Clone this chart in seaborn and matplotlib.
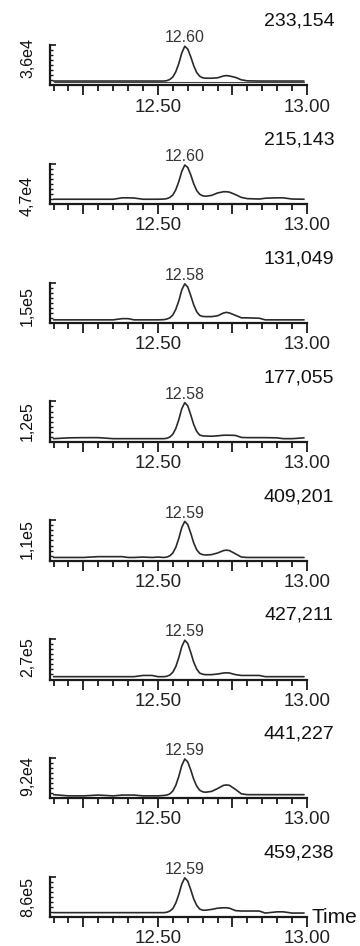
import matplotlib
matplotlib.use("Agg")
import matplotlib.pyplot as plt
import matplotlib.transforms as mtransforms
import seaborn as sns
import pandas as pd

# ---------------- data ----------------
times = [12.15, 12.20, 12.25, 12.30, 12.35, 12.38, 12.40, 12.42, 12.45, 12.48,
         12.50, 12.52, 12.53, 12.54, 12.55, 12.56, 12.57, 12.58, 12.59, 12.60,
         12.61, 12.62, 12.63, 12.64, 12.65, 12.66, 12.68, 12.70, 12.72, 12.73,
         12.74, 12.76, 12.78, 12.80, 12.84, 12.86, 12.90, 12.92, 12.95, 12.99]

trace1 = [.11, .11, .11, .11, .11, .11, .11, .11, .11, .11,
          .11, .11, .12, .15, .21, .34, .54, .80, .97, .90,
          .71, .49, .32, .23, .19, .18, .18, .19, .235, .245,
          .235, .20, .14, .115, .11, .11, .11, .11, .11, .11]
trace2 = [.125, .125, .125, .125, .125, .16, .16, .155, .125, .125,
          .125, .13, .14, .17, .23, .36, .56, .81, .97, .91,
          .73, .51, .34, .25, .21, .20, .22, .28, .31, .31,
          .30, .24, .17, .14, .13, .15, .16, .16, .13, .125]
trace3 = [.08, .08, .08, .08, .08, .11, .11, .08, .08, .08,
          .08, .085, .10, .13, .20, .34, .55, .82, .97, .89,
          .68, .45, .28, .19, .165, .16, .16, .18, .25, .265,
          .25, .19, .13, .13, .12, .08, .08, .08, .08, .08]
trace4 = [.08, .10, .105, .105, .08, .08, .08, .08, .08, .08,
          .08, .08, .09, .12, .19, .33, .55, .82, .97, .89,
          .67, .43, .26, .17, .15, .145, .14, .15, .165, .165,
          .165, .16, .11, .105, .105, .105, .10, .08, .08, .10]
trace5 = [.08, .08, .08, .10, .10, .10, .08, .08, .09, .08,
          .09, .08, .09, .12, .19, .33, .55, .82, .97, .89,
          .68, .44, .27, .18, .15, .14, .15, .19, .25, .26,
          .25, .17, .09, .08, .08, .08, .08, .08, .08, .08]
trace6 = [.07, .07, .07, .07, .07, .07, .07, .07, .10, .10,
          .07, .07, .08, .11, .18, .32, .54, .81, .97, .89,
          .67, .43, .26, .16, .13, .12, .12, .135, .16, .165,
          .16, .12, .10, .10, .10, .07, .07, .07, .07, .07]
trace7 = [.09, .06, .06, .08, .06, .08, .08, .08, .06, .06,
          .06, .07, .08, .11, .18, .32, .54, .81, .97, .90,
          .70, .47, .30, .20, .16, .15, .17, .24, .32, .33,
          .32, .22, .11, .09, .09, .09, .09, .09, .09, .09]
trace8 = [.11, .11, .11, .11, .11, .11, .11, .11, .11, .11,
          .11, .11, .12, .15, .21, .35, .56, .82, .97, .89,
          .68, .45, .29, .20, .17, .17, .19, .22, .23, .23,
          .22, .16, .15, .15, .15, .10, .13, .13, .10, .10]
traces = [trace1, trace2, trace3, trace4, trace5, trace6, trace7, trace8]

sample_labels = ["233,154", "215,143", "131,049", "177,055",
                 "409,201", "427,211", "441,227", "459,238"]
peak_labels = ["12.60", "12.60", "12.58", "12.58", "12.59", "12.59", "12.59", "12.59"]
peak_times = [12.59, 12.59, 12.59, 12.59, 12.59, 12.59, 12.59, 12.59]
y_labels = ["3,6e4", "4,7e4", "1,5e5", "1,2e5", "1,1e5", "2,7e5", "9,2e4", "8,6e5"]
x_major_ticks = [12.25, 12.50, 12.75, 13.00]
x_major_labels = ["", "12.50", "", "13.00"]
x_minor_ticks = [12.15, 12.20, 12.30, 12.35, 12.40, 12.45, 12.55, 12.60, 12.65,
                 12.70, 12.80, 12.85, 12.90, 12.95]
baseline1 = [0.095, 0.095]

# ---------------- style ----------------
sns.set_theme(style="white")
plt.rcParams["font.family"] = ["Liberation Sans", "DejaVu Sans"]

W, H = 360, 946
fig = plt.figure(figsize=(W / 100, H / 100), dpi=100)
fig.patch.set_facecolor("white")

period = 118.8
ylab_off = [12.5, 32.5, 23.5, 20, 19, 18, 18, 20.5]
ink = "#1a1a1a"

for i in range(8):
    top = 45 + i * period
    bottom = 85.5 + i * period
    ax = fig.add_axes([50 / W, 1 - bottom / H, 257 / W, (bottom - top) / H])
    df = pd.DataFrame({"time": times, "signal": traces[i]})
    sns.lineplot(data=df, x="time", y="signal", ax=ax, color="#2a2a2a",
                 linewidth=1.2, estimator=None, sort=False)
    if i == 0:
        sns.lineplot(x=[times[0], times[-1]], y=baseline1, ax=ax,
                     color="#444444", linewidth=0.8, estimator=None)
    ax.set_xlim(12.138, 13.0)
    ax.set_ylim(0, 1.0)
    ax.set_xlabel("")
    ax.set_ylabel("")
    for s in ["top", "right"]:
        ax.spines[s].set_visible(False)
    for s in ["left", "bottom"]:
        ax.spines[s].set_color(ink)
        ax.spines[s].set_linewidth(1.6)
    ax.set_xticks(x_major_ticks)
    ax.set_xticklabels(x_major_labels)
    ax.set_xticks(x_minor_ticks, minor=True)
    ax.tick_params(axis="x", which="major", direction="out", length=7.5, width=1.3,
                   color=ink, labelsize=13.5, labelcolor="#222222", pad=2, bottom=True)
    ax.tick_params(axis="x", which="minor", direction="out", length=4.5, width=1.3,
                   color=ink, bottom=True)
    ax.set_yticks([0, 1.0])
    ax.set_yticklabels([])
    ax.set_yticks([0.125, 0.25, 0.375, 0.5, 0.625, 0.75, 0.875], minor=True)
    ax.tick_params(axis="y", which="major", direction="in", length=4, width=1.2,
                   color=ink, left=True)
    ax.tick_params(axis="y", which="minor", direction="in", length=2.5, width=1.0,
                   color=ink, left=True)
    ax.grid(False)

    # peak annotation
    trans = mtransforms.blended_transform_factory(ax.transData, ax.transAxes)
    ax.annotate(peak_labels[i], xy=(peak_times[i], 1.0), xycoords=trans,
                xytext=(0, 2.5), textcoords="offset pixels",
                ha="center", va="baseline", fontsize=11.5, color="#3a3535",
                annotation_clip=False)

    # sample label (top right)
    fig.text(299 / W, 1 - (top - 23.5) / H, sample_labels[i], ha="center",
             va="center", fontsize=14, color="#111111")
    # y label
    fig.text(27.5 / W, 1 - (top + ylab_off[i]) / H, y_labels[i], rotation=90,
             ha="center", va="center", fontsize=11.5, color="#111111")

    if i == 7:
        ax.annotate("Time", xy=(1.0, 0.0), xycoords="axes fraction",
                    xytext=(5, 0), textcoords="offset pixels",
                    ha="left", va="center", fontsize=15, color="#111111",
                    annotation_clip=False)

fig.savefig("out.png", dpi=100, facecolor="white")
